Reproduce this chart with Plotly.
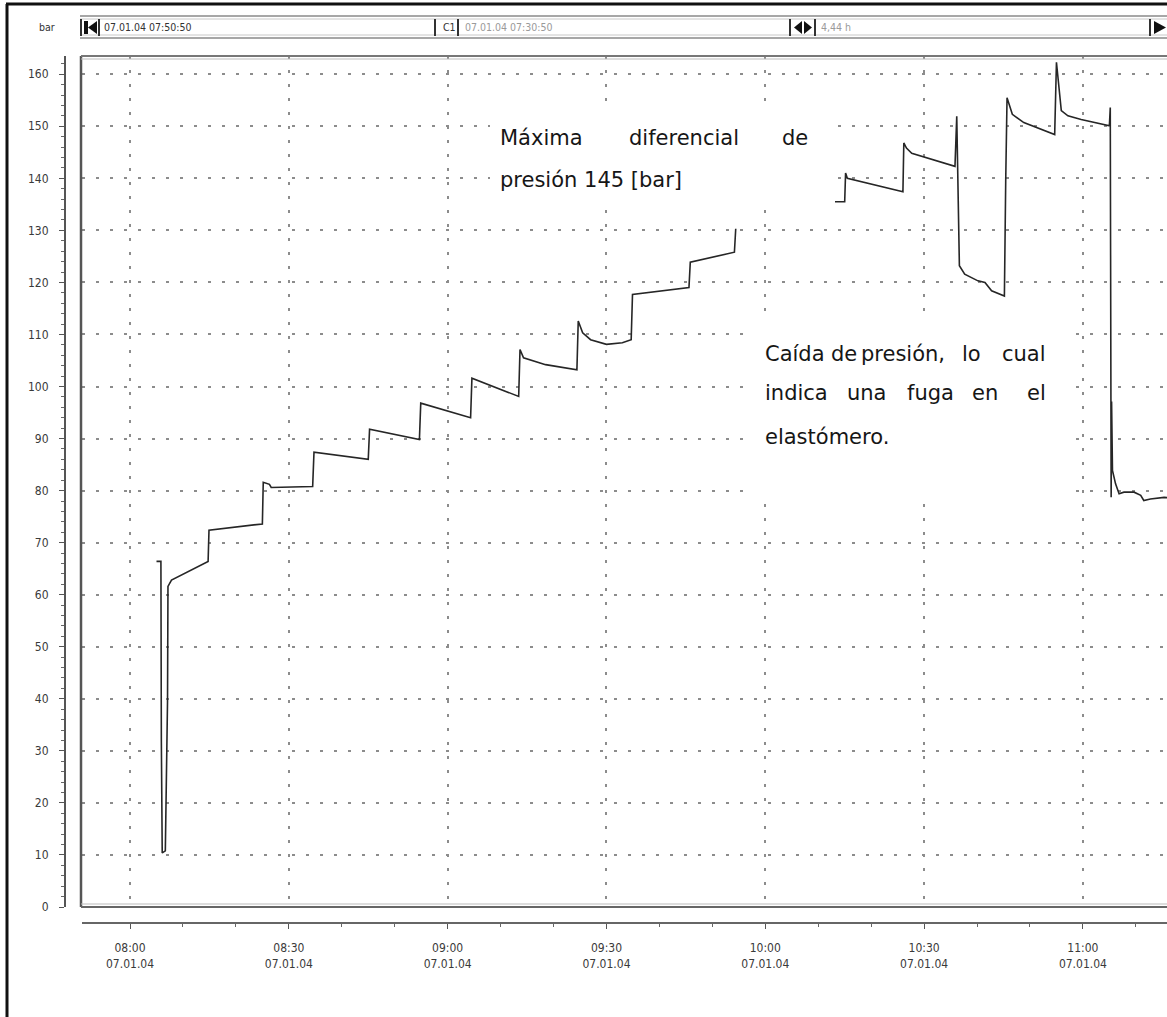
import plotly.graph_objects as go

# ---- recorded pressure, 07.01.04 ----
DAY = "2004-01-07 "

seg1_time = ["08:05:00", "08:05:50", "08:05:55", "08:06:05", "08:06:40", "08:07:00",
             "08:07:05", "08:07:10", "08:07:50", "08:14:45", "08:14:55", "08:25:00",
             "08:25:10", "08:26:20", "08:26:40", "08:34:30", "08:34:45", "08:45:00",
             "08:45:15", "08:54:40", "08:54:55", "09:04:20", "09:04:35", "09:13:25",
             "09:13:40", "09:14:20", "09:18:30", "09:24:25", "09:24:40", "09:25:30",
             "09:27:00", "09:30:00", "09:33:00", "09:34:40", "09:34:55", "09:45:35",
             "09:45:50", "09:54:10", "09:54:25"]
seg1_bar = [66.4, 66.4, 32.0, 10.4, 10.8, 38.8, 39.5, 61.6, 62.8, 66.4, 72.4, 73.6,
            81.6, 81.2, 80.6, 80.8, 87.4, 86.0, 91.8, 89.8, 96.8, 94.0, 101.6, 98.1,
            107.1, 105.5, 104.2, 103.2, 112.6, 110.3, 109.0, 108.1, 108.4, 109.0, 117.7,
            119.0, 123.9, 125.8, 130.3]

seg2_time = ["10:13:05", "10:15:00", "10:15:10", "10:15:30", "10:26:00", "10:26:10",
             "10:26:40", "10:27:40", "10:35:50", "10:36:10", "10:36:40", "10:37:40",
             "10:40:10", "10:41:30", "10:42:45", "10:45:10", "10:45:25", "10:45:40",
             "10:46:40", "10:48:50", "10:54:40", "10:55:00", "10:55:55", "10:57:10",
             "10:59:40", "11:05:00", "11:05:10", "11:05:20", "11:05:25", "11:05:35",
             "11:06:10", "11:06:50", "11:07:45", "11:09:40", "11:10:55", "11:11:30",
             "11:12:45", "11:15:20", "11:16:30"]
seg2_bar = [135.5, 135.5, 141.0, 140.0, 137.4, 146.8, 145.8, 144.8, 142.3, 151.9,
            123.2, 121.6, 120.3, 120.0, 118.4, 117.4, 139.4, 155.5, 152.3, 150.7,
            148.4, 162.3, 153.0, 152.0, 151.3, 150.1, 153.6, 78.7, 97.1, 83.9, 81.3,
            79.4, 79.7, 79.7, 79.1, 78.1, 78.4, 78.7, 78.6]

x_start = "07:50:50"
x_end = "11:15:53"
y_max = 163.5

note_max = [("Máxima", "l"), ("diferencial", "l"), ("de", "r")]
note_max_2 = "presión 145 [bar]"
note_drop_1 = ["Caída", "de", "presión,", "lo", "cual"]
note_drop_2 = ["indica", "una", "fuga", "en", "el"]
note_drop_3 = "elastómero."

# ---- page geometry ----
W, H = 1167, 1017
ML, MR, MT, MB = 65, 0, 56, 94
PW, PH = W - ML - MR, H - MT - MB


def px(x):
    return (x - ML) / PW


def py(y):
    return (H - MB - y) / PH


LINE = "#262626"
GRID = "#8c8c8c"
TICKFONT = "Liberation Sans Narrow, Arial Narrow, DejaVu Sans Condensed, Liberation Sans"

fig = go.Figure()
fig.add_trace(go.Scatter(x=[DAY + t for t in seg1_time], y=seg1_bar, mode="lines",
                         line=dict(color=LINE, width=1.6), showlegend=False,
                         hoverinfo="skip"))
fig.add_trace(go.Scatter(x=[DAY + t for t in seg2_time], y=seg2_bar, mode="lines",
                         line=dict(color=LINE, width=1.6), showlegend=False,
                         hoverinfo="skip"))

fig.update_layout(
    width=W, height=H,
    margin=dict(l=ML, r=MR, t=MT, b=MB, pad=0),
    paper_bgcolor="white", plot_bgcolor="white",
    showlegend=False,
    xaxis=dict(
        type="date", range=[DAY + x_start, DAY + x_end],
        domain=[px(81.5), 1], anchor="free", position=0,
        tickmode="linear", tick0=DAY + "08:00:00", dtick=30 * 60 * 1000,
        tickformat="%H:%M<br>%d.%m.%y",
        ticks="outside", ticklen=5, tickwidth=1.2, tickcolor="#555",
        minor=dict(dtick=10 * 60 * 1000, ticks="outside", ticklen=3,
                   tickcolor="#666", showgrid=False),
        showline=True, linecolor="#666", linewidth=2,
        showgrid=True, gridcolor=GRID, gridwidth=1.5, griddash="3px,11px",
        zeroline=False, ticklabelstandoff=9,
        tickfont=dict(family=TICKFONT, size=12, color="#3a3a3a"),
    ),
    yaxis=dict(
        range=[0, y_max], domain=[py(907), 1], anchor="free", position=0,
        tickmode="linear", tick0=0, dtick=10,
        ticks="outside", ticklen=5, tickwidth=1.2, tickcolor="#555",
        minor=dict(dtick=2, ticks="outside", ticklen=3, tickcolor="#666",
                   showgrid=False),
        showline=True, linecolor="#555", linewidth=2,
        showgrid=True, gridcolor=GRID, gridwidth=1.5, griddash="3px,11px",
        zeroline=False, ticklabelstandoff=8,
        tickfont=dict(family=TICKFONT, size=12, color="#3a3a3a"),
    ),
)

shapes = []
# white text boxes that hide the grid behind the two notes
for x0, x1, y0, y1 in [(490, 835, 103, 210), (752, 1068, 313, 503)]:
    shapes.append(dict(type="rect", xref="paper", yref="paper", layer="above",
                       x0=px(x0), x1=px(x1), y0=py(y1), y1=py(y0),
                       fillcolor="white", line=dict(width=0)))
# plot frame (left, top, bottom)
shapes.append(dict(type="line", xref="paper", yref="paper", x0=px(81), x1=px(81),
                   y0=py(907), y1=py(56), line=dict(color="#555", width=2.5)))
shapes.append(dict(type="line", xref="paper", yref="paper", x0=px(81), x1=1,
                   y0=py(56), y1=py(56), line=dict(color="#777", width=2)))
shapes.append(dict(type="line", xref="paper", yref="paper", x0=px(81), x1=1,
                   y0=py(59), y1=py(59), line=dict(color="#bbb", width=1)))
shapes.append(dict(type="line", xref="paper", yref="paper", x0=px(81), x1=1,
                   y0=py(907), y1=py(907), line=dict(color="#666", width=2)))
shapes.append(dict(type="line", xref="paper", yref="paper", x0=px(81), x1=1,
                   y0=py(904), y1=py(904), line=dict(color="#bbb", width=1)))
# outer window frame
shapes.append(dict(type="line", xref="paper", yref="paper", x0=px(6), x1=1,
                   y0=py(4), y1=py(4), line=dict(color="#111", width=3)))
shapes.append(dict(type="line", xref="paper", yref="paper", x0=px(7), x1=px(7),
                   y0=py(4), y1=py(H), line=dict(color="#111", width=3)))
# toolbar strip
for yy, c, w in [(16, "#8a8a8a", 1.5), (19, "#c8c8c8", 1), (35, "#c8c8c8", 1), (38, "#8a8a8a", 1.5)]:
    shapes.append(dict(type="line", xref="paper", yref="paper", x0=px(80), x1=1,
                       y0=py(yy), y1=py(yy), line=dict(color=c, width=w)))
for xx in [81, 99, 435, 458, 790, 815, 1150]:
    shapes.append(dict(type="line", xref="paper", yref="paper", x0=px(xx), x1=px(xx),
                       y0=py(19), y1=py(36), line=dict(color="#333", width=2)))
# toolbar icons
shapes.append(dict(type="rect", xref="paper", yref="paper", x0=px(84), x1=px(88),
                   y0=py(21), y1=py(34), fillcolor="#111", line=dict(width=0)))
shapes.append(dict(type="path", xref="paper", yref="paper",
                   path=f"M {px(97)},{py(21)} L {px(88)},{py(27.5)} L {px(97)},{py(34)} Z",
                   fillcolor="#111", line=dict(width=0)))
shapes.append(dict(type="path", xref="paper", yref="paper",
                   path=f"M {px(802)},{py(21)} L {px(794)},{py(27.5)} L {px(802)},{py(34)} Z",
                   fillcolor="#111", line=dict(width=0)))
shapes.append(dict(type="path", xref="paper", yref="paper",
                   path=f"M {px(804)},{py(21)} L {px(812)},{py(27.5)} L {px(804)},{py(34)} Z",
                   fillcolor="#111", line=dict(width=0)))
shapes.append(dict(type="path", xref="paper", yref="paper",
                   path=f"M {px(1154)},{py(21)} L {px(1166)},{py(27.5)} L {px(1154)},{py(34)} Z",
                   fillcolor="#111", line=dict(width=0)))
fig.update_layout(shapes=shapes)

ann = []
SMALL = dict(family=TICKFONT, size=10.5)
ann.append(dict(x=px(47), y=py(27), text="bar", font=dict(**SMALL, color="#333")))
ann.append(dict(x=px(102), y=py(27), xanchor="left", text="07.01.04 07:50:50",
                font=dict(**SMALL, color="#333")))
ann.append(dict(x=px(441), y=py(27), xanchor="left", text="C1",
                font=dict(**SMALL, color="#333")))
ann.append(dict(x=px(463), y=py(27), xanchor="left", text="07.01.04 07:30:50",
                font=dict(**SMALL, color="#9a9a9a")))
ann.append(dict(x=px(819), y=py(27), xanchor="left", text="4,44 h",
                font=dict(**SMALL, color="#9a9a9a")))

NOTE = dict(family="DejaVu Sans, Noto Sans", size=21, color="#161616")
# annotation: maximum differential pressure (justified first line)
for (word, side), xx in zip(note_max, [498, 627, 810]):
    ann.append(dict(x=px(xx), y=py(138), text=word, font=NOTE,
                    xanchor="left" if side == "l" else "right"))
ann.append(dict(x=px(498), y=py(180), xanchor="left", text=note_max_2, font=NOTE))
# annotation: pressure drop
for word, xx in zip(note_drop_1, [763, 829, 859, 960, 1048]):
    ann.append(dict(x=px(xx), y=py(354), text=word, font=NOTE,
                    xanchor="right" if word == note_drop_1[-1] else "left"))
for word, xx in zip(note_drop_2, [763, 845, 905, 970, 1048]):
    ann.append(dict(x=px(xx), y=py(393), text=word, font=NOTE,
                    xanchor="right" if word == note_drop_2[-1] else "left"))
ann.append(dict(x=px(763), y=py(437), xanchor="left", text=note_drop_3, font=NOTE))

for a in ann:
    a.setdefault("xanchor", "center")
    a.update(xref="paper", yref="paper", yanchor="middle", showarrow=False)
fig.update_layout(annotations=ann)

fig.write_html("out.html")
